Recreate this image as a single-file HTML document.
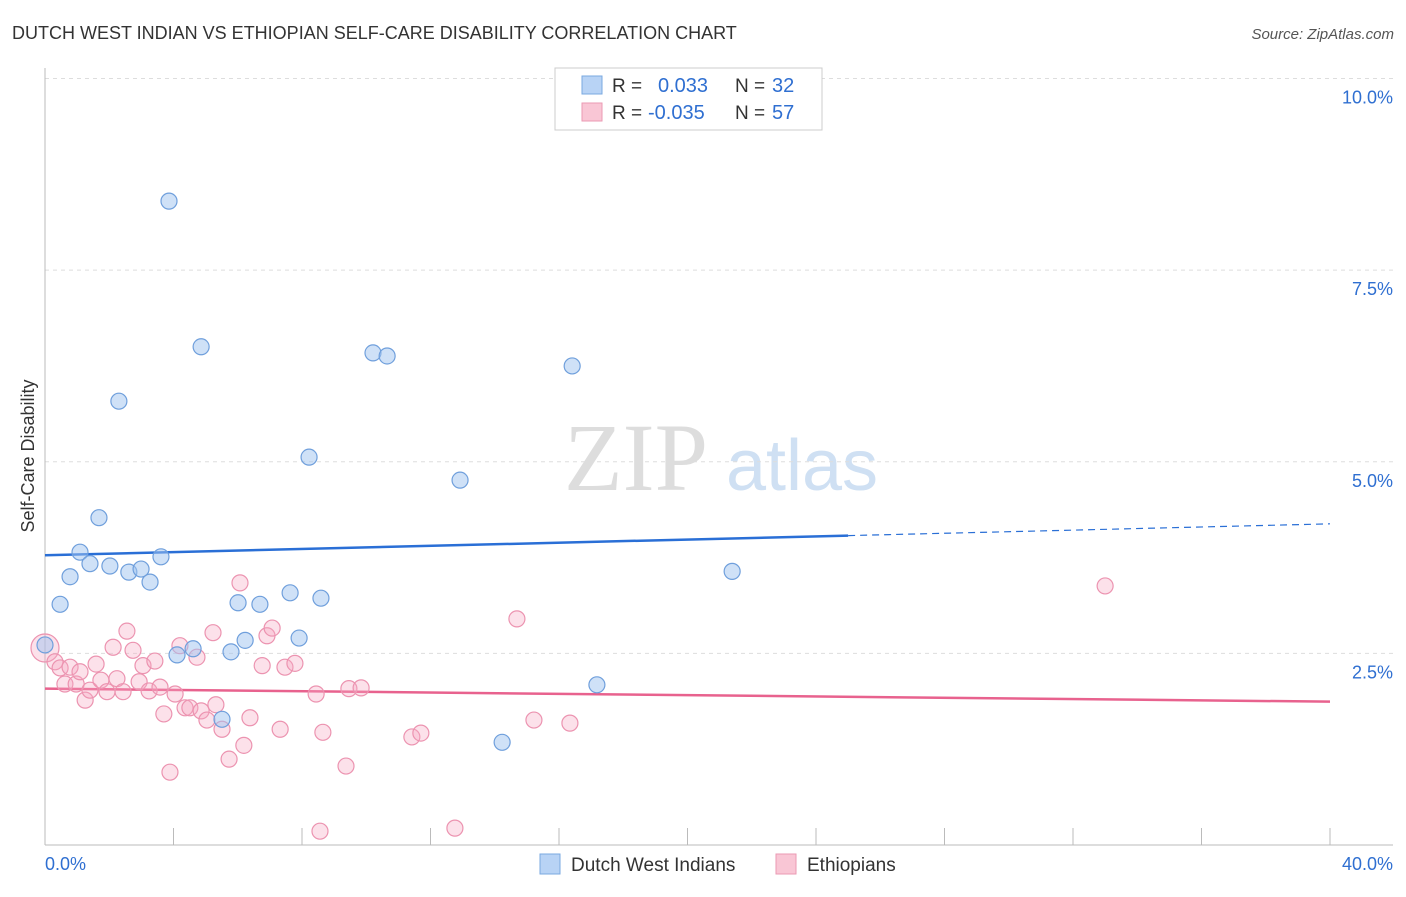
<!DOCTYPE html>
<html><head><meta charset="utf-8"><style>
body{margin:0;background:#fff;font-family:"Liberation Sans",sans-serif}
svg text{font-family:"Liberation Sans",sans-serif}
</style></head><body>
<svg width="1406" height="892" viewBox="0 0 1406 892">
<text x="12" y="39" font-size="18" fill="#333">DUTCH WEST INDIAN VS ETHIOPIAN SELF-CARE DISABILITY CORRELATION CHART</text>
<text x="1394" y="39" font-size="15" fill="#555" text-anchor="end" font-style="italic">Source: ZipAtlas.com</text>
<g>
<text x="636" y="490" font-size="96" fill="#ddd" text-anchor="middle" font-family="Liberation Serif" style="font-family:'Liberation Serif',serif">ZIP</text>
<text x="802" y="490" font-size="72" fill="#cfe0f3" text-anchor="middle">atlas</text>
</g>
<g id="grid"></g>
<g id="axes"></g>
<text transform="translate(34,456) rotate(-90)" font-size="18" fill="#333" text-anchor="middle">Self-Care Disability</text>
<g id="lines"></g>
<g id="pts"></g>
<g>
<rect x="555" y="68" width="267" height="62" fill="#fff" stroke="#ccc"/>
<rect x="582" y="76" width="20" height="18" fill="#b8d3f5" stroke="#7aa8e0"/>
<rect x="582" y="103" width="20" height="18" fill="#f9c6d5" stroke="#eb9ab3"/>
<text x="612" y="92" font-size="19" fill="#333">R = </text><text x="658" y="92" font-size="20" fill="#2f6fd1">0.033</text>
<text x="735" y="92" font-size="19" fill="#333">N = </text><text x="772" y="92" font-size="20" fill="#2f6fd1">32</text>
<text x="612" y="119" font-size="19" fill="#333">R = </text><text x="648" y="119" font-size="20" fill="#2f6fd1">-0.035</text>
<text x="735" y="119" font-size="19" fill="#333">N = </text><text x="772" y="119" font-size="20" fill="#2f6fd1">57</text>
</g>
<g>
<rect x="540" y="854" width="20" height="20" fill="#b8d3f5" stroke="#7aa8e0"/>
<text x="571" y="871" font-size="19" fill="#333">Dutch West Indians</text>
<rect x="776" y="854" width="20" height="20" fill="#f9c6d5" stroke="#eb9ab3"/>
<text x="807" y="871" font-size="19" fill="#333">Ethiopians</text>
</g>
</svg>
<script>
const yTicks=[2.5,5.0,7.5,10.0];
const yTickLabels=["2.5%","5.0%","7.5%","10.0%"];
const xTickLabels=["0.0%","40.0%"];
const blueX=[3.86,4.86,2.30,10.21,10.65,16.41,8.22,12.92,1.68,1.09,0.78,1.40,2.02,2.61,2.99,3.27,3.61,0.47,6.01,6.69,7.63,8.59,6.23,7.91,4.61,5.79,4.11,0,5.51,14.23,17.18,21.39];
const blueY=[8.40,6.50,5.79,6.42,6.38,6.25,5.06,4.76,4.27,3.82,3.50,3.67,3.64,3.56,3.60,3.43,3.76,3.14,3.16,3.14,3.29,3.22,2.67,2.70,2.56,2.52,2.48,2.61,1.64,1.34,2.09,3.57];
const pinkX=[0,0.31,0.47,0.62,0.78,0.97,1.09,1.25,1.40,1.59,1.74,1.93,2.12,2.24,2.43,2.55,2.74,2.93,3.05,3.24,3.42,3.58,3.70,3.89,4.05,4.20,4.36,4.51,4.73,4.86,5.04,5.23,5.32,5.51,5.73,6.07,6.19,6.38,6.76,6.91,7.07,7.32,7.47,7.78,8.44,8.56,8.65,9.37,9.46,9.84,11.42,11.70,12.76,14.69,15.22,16.34,33.0];
const pinkY=[2.57,2.39,2.31,2.10,2.32,2.10,2.26,1.89,2.02,2.36,2.15,2.00,2.58,2.17,2.00,2.79,2.54,2.13,2.34,2.01,2.40,2.06,1.71,0.95,1.97,2.60,1.79,1.79,2.45,1.75,1.63,2.77,1.83,1.51,1.12,3.42,1.30,1.66,2.34,2.73,2.83,1.51,2.32,2.37,1.97,0.18,1.47,1.03,2.04,2.05,1.41,1.46,0.22,2.95,1.63,1.59,3.38];
const blueTrend=[3.78,4.19];
const pinkTrend=[2.04,1.87];
const X0=45,X1=1330,Y0=845,PPY=76.65;
function sx(v){return X0+(v/40)*(X1-X0);}
function sy(v){return Y0-v*PPY;}
const NS="http://www.w3.org/2000/svg";
function mk(t,a,p){const e=document.createElementNS(NS,t);for(const k in a)e.setAttribute(k,a[k]);p.appendChild(e);return e;}
const grid=document.getElementById('grid'),axes=document.getElementById('axes');
yTicks.forEach((t,i)=>{
 const l=mk('line',{x1:45,x2:1393,y1:sy(t),y2:sy(t),stroke:'#ddd','stroke-dasharray':'4,4'},grid);
 
 
 const tx=mk('text',{x:1393,y:sy(t)+25,'font-size':18,fill:'#2f6fd1','text-anchor':'end'},axes);
 tx.textContent=yTickLabels[i];
 
 
});
mk('line',{x1:45,x2:45,y1:68,y2:845,stroke:'#bbb'},axes);
mk('line',{x1:45,x2:1393,y1:845,y2:845,stroke:'#bbb'},axes);
for(let i=0;i<=10;i++){const x=sx(i*4);mk('line',{x1:x,x2:x,y1:828,y2:845,stroke:'#bbb'},axes);}
[[0,'start',45],[1,'end',1393]].forEach(([i,a,x])=>{
 const t=mk('text',{x:x,y:870,'font-size':18,fill:'#2f6fd1','text-anchor':a},axes);
 t.textContent=xTickLabels[i];
 
 
});
const lines=document.getElementById('lines');
const bMid=blueTrend[0]+(blueTrend[1]-blueTrend[0])*25/40;
const b1=mk('line',{x1:sx(0),y1:sy(blueTrend[0]),x2:sx(25),y2:sy(bMid),stroke:'#2a6fd6','stroke-width':2.5},lines);


const b2=mk('line',{x1:sx(25),y1:sy(bMid),x2:sx(40),y2:sy(blueTrend[1]),stroke:'#2a6fd6','stroke-width':1.2,'stroke-dasharray':'7,5'},lines);


const p1=mk('line',{x1:sx(0),y1:sy(pinkTrend[0]),x2:sx(40),y2:sy(pinkTrend[1]),stroke:'#e8628e','stroke-width':2.5},lines);


const pts=document.getElementById('pts');
pinkX.forEach((x,i)=>{
 const c=mk('circle',{cx:sx(x),cy:sy(pinkY[i]),r:i===0?14:8,fill:'rgba(246,170,195,0.35)',stroke:'#ec93b0','stroke-width':1.2},pts);
 
 
});
blueX.forEach((x,i)=>{
 const c=mk('circle',{cx:sx(x),cy:sy(blueY[i]),r:8,fill:'rgba(160,195,240,0.5)',stroke:'#6f9fdc','stroke-width':1.2},pts);
 
 
});
</script>
</body></html>
